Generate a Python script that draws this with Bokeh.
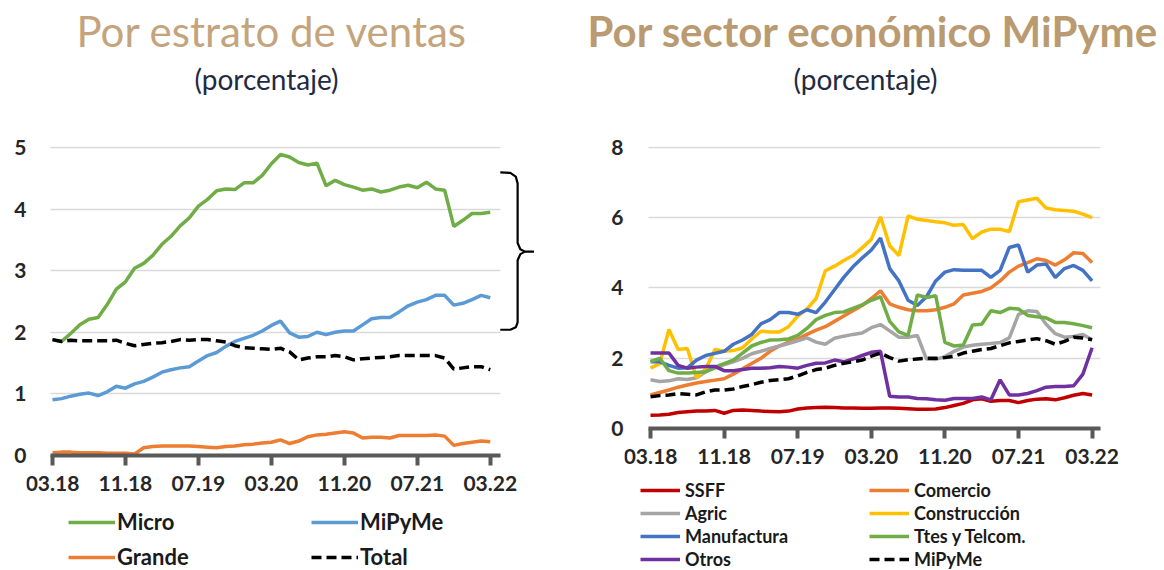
from bokeh.plotting import figure
from bokeh.models import FixedTicker, Title, Legend, LegendItem, Range1d
from bokeh.layouts import row
from bokeh.embed import file_html
from bokeh.resources import INLINE

# ---------------- data ----------------
months = list(range(49))  # 03.18 .. 03.22, monthly
tick_pos = [0, 8, 16, 24, 32, 40, 48]
tick_labels = ["03.18", "11.18", "07.19", "03.20", "11.20", "07.21", "03.22"]

# Left panel: por estrato de ventas
micro = [1.88, 1.85, 1.98, 2.12, 2.21, 2.24, 2.45, 2.70, 2.82, 3.04, 3.12, 3.25, 3.43, 3.56, 3.73, 3.86,
         4.05, 4.16, 4.30, 4.33, 4.32, 4.43, 4.43, 4.55, 4.74, 4.89, 4.85, 4.76, 4.72, 4.75, 4.38, 4.47,
         4.40, 4.36, 4.31, 4.33, 4.28, 4.31, 4.36, 4.39, 4.35, 4.44, 4.33, 4.31, 3.72, 3.82, 3.93, 3.93, 3.95]
mipyme_l = [0.90, 0.92, 0.96, 0.99, 1.01, 0.97, 1.03, 1.12, 1.09, 1.16, 1.20, 1.27, 1.35, 1.39, 1.42, 1.44,
            1.53, 1.62, 1.67, 1.77, 1.85, 1.90, 1.95, 2.02, 2.11, 2.18, 1.99, 1.92, 1.93, 2.00, 1.96, 2.00,
            2.02, 2.02, 2.12, 2.22, 2.24, 2.24, 2.33, 2.43, 2.49, 2.53, 2.60, 2.60, 2.44, 2.47, 2.53, 2.60, 2.56]
grande = [0.04, 0.05, 0.05, 0.04, 0.04, 0.04, 0.03, 0.03, 0.03, 0.02, 0.12, 0.14, 0.15, 0.15, 0.15, 0.15,
          0.14, 0.13, 0.12, 0.14, 0.15, 0.17, 0.18, 0.20, 0.21, 0.25, 0.19, 0.23, 0.30, 0.33, 0.34, 0.36,
          0.38, 0.36, 0.28, 0.29, 0.29, 0.28, 0.32, 0.32, 0.32, 0.32, 0.33, 0.31, 0.16, 0.19, 0.21, 0.23, 0.22]
total = [1.88, 1.85, 1.87, 1.86, 1.86, 1.86, 1.86, 1.87, 1.82, 1.78, 1.80, 1.82, 1.83, 1.85, 1.88, 1.87,
         1.88, 1.88, 1.86, 1.84, 1.78, 1.75, 1.74, 1.73, 1.72, 1.74, 1.68, 1.55, 1.58, 1.60, 1.60, 1.62,
         1.60, 1.55, 1.57, 1.58, 1.59, 1.60, 1.62, 1.62, 1.62, 1.62, 1.62, 1.58, 1.40, 1.42, 1.44, 1.44, 1.39]

# Right panel: por sector económico MiPyme
ssff = [0.38, 0.39, 0.41, 0.46, 0.48, 0.50, 0.50, 0.52, 0.44, 0.52, 0.53, 0.52, 0.50, 0.49, 0.48, 0.50,
        0.56, 0.59, 0.60, 0.61, 0.60, 0.59, 0.59, 0.58, 0.58, 0.59, 0.59, 0.58, 0.57, 0.55, 0.55, 0.56,
        0.60, 0.66, 0.72, 0.82, 0.85, 0.78, 0.80, 0.80, 0.74, 0.80, 0.84, 0.85, 0.82, 0.88, 0.95, 1.00, 0.96]
comercio = [0.96, 1.03, 1.10, 1.18, 1.24, 1.30, 1.34, 1.38, 1.42, 1.55, 1.70, 1.85, 2.00, 2.20, 2.35, 2.46,
            2.55, 2.68, 2.80, 2.90, 3.05, 3.20, 3.35, 3.50, 3.70, 3.92, 3.55, 3.45, 3.38, 3.35, 3.35, 3.38,
            3.45, 3.55, 3.80, 3.85, 3.90, 4.00, 4.20, 4.45, 4.62, 4.72, 4.83, 4.78, 4.65, 4.80, 5.00, 4.98, 4.72]
agric = [1.39, 1.34, 1.36, 1.42, 1.40, 1.45, 1.62, 1.72, 1.82, 1.90, 2.00, 2.13, 2.20, 2.28, 2.35, 2.42,
         2.50, 2.58, 2.46, 2.40, 2.57, 2.63, 2.68, 2.72, 2.87, 2.96, 2.78, 2.60, 2.60, 2.65, 1.98, 1.97,
         2.05, 2.20, 2.32, 2.37, 2.40, 2.42, 2.45, 2.58, 3.25, 3.35, 3.33, 2.97, 2.70, 2.60, 2.62, 2.68, 2.53]
construccion = [1.72, 1.85, 2.82, 2.25, 2.28, 1.45, 1.70, 2.25, 2.20, 2.22, 2.30, 2.55, 2.77, 2.75, 2.75, 2.90,
                3.20, 3.40, 3.70, 4.49, 4.62, 4.78, 4.92, 5.14, 5.38, 6.02, 5.20, 4.92, 6.05, 5.95, 5.92, 5.88,
                5.85, 5.78, 5.80, 5.40, 5.59, 5.67, 5.67, 5.60, 6.45, 6.50, 6.55, 6.27, 6.22, 6.20, 6.18, 6.10, 6.00]
manufactura = [1.90, 1.90, 1.80, 1.72, 1.73, 1.95, 2.08, 2.14, 2.20, 2.40, 2.52, 2.68, 2.98, 3.10, 3.30, 3.30,
               3.25, 3.38, 3.30, 3.60, 3.95, 4.30, 4.60, 4.85, 5.08, 5.42, 4.55, 4.20, 3.65, 3.50, 3.75, 4.20,
               4.45, 4.52, 4.50, 4.50, 4.50, 4.30, 4.50, 5.15, 5.22, 4.45, 4.65, 4.68, 4.30, 4.55, 4.64, 4.50, 4.20]
ttes = [1.91, 2.00, 1.65, 1.58, 1.58, 1.60, 1.62, 1.75, 1.85, 1.95, 2.15, 2.35, 2.45, 2.52, 2.53, 2.55,
        2.65, 2.85, 3.10, 3.22, 3.30, 3.32, 3.42, 3.52, 3.65, 3.75, 3.05, 2.75, 2.65, 3.80, 3.73, 3.78,
        2.45, 2.35, 2.38, 2.95, 2.97, 3.35, 3.30, 3.42, 3.40, 3.22, 3.18, 3.15, 3.02, 3.02, 2.98, 2.93, 2.87]
otros = [2.15, 2.15, 2.15, 1.80, 1.72, 1.75, 1.77, 1.77, 1.65, 1.65, 1.68, 1.72, 1.72, 1.73, 1.77, 1.75,
         1.72, 1.80, 1.86, 1.87, 1.95, 1.90, 1.98, 2.08, 2.17, 2.20, 0.92, 0.90, 0.90, 0.86, 0.85, 0.82,
         0.81, 0.86, 0.86, 0.86, 0.90, 0.82, 1.39, 0.96, 0.96, 1.00, 1.08, 1.18, 1.20, 1.20, 1.22, 1.55, 2.30]
mipyme_r = [0.91, 0.94, 0.96, 1.00, 0.98, 0.96, 1.05, 1.10, 1.10, 1.13, 1.20, 1.25, 1.32, 1.37, 1.39, 1.42,
            1.50, 1.60, 1.68, 1.72, 1.80, 1.86, 1.90, 1.95, 2.06, 2.15, 2.02, 1.92, 1.96, 1.98, 2.00, 2.00,
            2.02, 2.06, 2.15, 2.20, 2.25, 2.28, 2.36, 2.44, 2.48, 2.52, 2.56, 2.50, 2.40, 2.48, 2.60, 2.58, 2.53]

FONT = "Lato"
SUB_COLOR = "#1F2A44"
AXIS_COLOR = "#595959"
GRID_COLOR = "#D9D9D9"
LW = 3.5


def style(p, yticks, xbounds, label_standoff_y, label_standoff_x):
    p.outline_line_color = None
    p.xgrid.visible = False
    p.ygrid.grid_line_color = GRID_COLOR
    p.ygrid.grid_line_width = 1.5
    p.ygrid.cross_bounds = xbounds
    p.yaxis.ticker = FixedTicker(ticks=yticks)
    p.yaxis.axis_line_color = None
    p.yaxis.major_tick_line_color = None
    p.yaxis.minor_tick_line_color = None
    p.yaxis.major_label_text_font = FONT
    p.yaxis.major_label_text_font_style = "bold"
    p.yaxis.major_label_text_font_size = "21px"
    p.yaxis.major_label_text_color = "#262626"
    p.yaxis.major_label_standoff = label_standoff_y
    p.xaxis.fixed_location = 0
    p.xaxis.bounds = xbounds
    p.xaxis.ticker = FixedTicker(ticks=tick_pos)
    p.xaxis.major_label_overrides = {t: s for t, s in zip(tick_pos, tick_labels)}
    p.xaxis.axis_line_color = AXIS_COLOR
    p.xaxis.axis_line_width = 4
    p.xaxis.major_tick_line_color = AXIS_COLOR
    p.xaxis.major_tick_line_width = 4
    p.xaxis.major_tick_out = 10
    p.xaxis.major_tick_in = 0
    p.xaxis.minor_tick_line_color = None
    p.xaxis.major_label_text_font = FONT
    p.xaxis.major_label_text_font_style = "bold"
    p.xaxis.major_label_text_font_size = "21px"
    p.xaxis.major_label_text_color = "#262626"
    p.xaxis.major_label_standoff = label_standoff_x


def titles(p, main, main_color, main_style, main_offset, sub_offset):
    # spacer (closest to the frame), then subtitle, then the main title (outermost)
    p.add_layout(Title(text=" ", text_font_size="10px", standoff=38), "above")
    p.add_layout(Title(text="(porcentaje)", align="left", offset=sub_offset, text_font=FONT,
                       text_font_style="normal", text_font_size="28px", text_color=SUB_COLOR,
                       standoff=0), "above")
    p.title.text = main
    p.title.align = "left"
    p.title.offset = main_offset
    p.title.text_font = FONT
    p.title.text_font_style = main_style
    p.title.text_font_size = "42px"
    p.title.text_color = main_color
    p.title.standoff = 7


# ---------------- left figure ----------------
p1 = figure(width=560, height=570, x_range=Range1d(-2.85, 53.07), y_range=Range1d(-1.875, 5.02),
            output_backend="svg", toolbar_location=None,
            min_border_left=26, min_border_right=24, min_border_top=0, min_border_bottom=0)
style(p1, [0, 1, 2, 3, 4, 5], (-0.2, 49.1), -6, 11)
titles(p1, "Por estrato de ventas", "#C4A47C", "normal", 50, 168)

r_micro = p1.line(months, micro, line_color="#70AD47", line_width=LW)
r_mipl = p1.line(months, mipyme_l, line_color="#5B9BD5", line_width=LW)
r_grande = p1.line(months, grande, line_color="#ED7D31", line_width=LW)
r_total = p1.line(months, total, line_color="black", line_width=LW, line_dash="10 5")

# curly brace annotation to the right of the lines
brace_x = [[49.1, 50.2, 50.8, 51.0, 51.0, 51.3, 51.8, 52.8],
           [51.8, 51.3, 51.0, 51.0, 50.8, 50.2, 49.1]]
brace_y = [[4.60, 4.59, 4.53, 4.42, 3.45, 3.35, 3.31, 3.31],
           [3.31, 3.27, 3.17, 2.16, 2.08, 2.04, 2.04]]
p1.multi_line(brace_x, brace_y, line_color="black", line_width=2.2)

leg1 = Legend(items=[LegendItem(label="Micro", renderers=[r_micro]),
                     LegendItem(label="Grande", renderers=[r_grande]),
                     LegendItem(label="MiPyMe", renderers=[r_mipl]),
                     LegendItem(label="Total", renderers=[r_total])],
              ncols=2, location=(42, 0), margin=0, padding=0, spacing=8,
              glyph_width=47, glyph_height=26, label_height=26, label_width=186, label_standoff=2,
              label_text_font=FONT, label_text_font_style="bold", label_text_font_size="22px",
              label_text_color="#1a1a1a", border_line_color=None, background_fill_alpha=0)
p1.add_layout(leg1)

# ---------------- right figure ----------------
p2 = figure(width=604, height=570, x_range=Range1d(-2.83, 50.87), y_range=Range1d(-4.03, 8.02),
            output_backend="svg", toolbar_location=None,
            min_border_left=64, min_border_right=46, min_border_top=0, min_border_bottom=0)
style(p2, [0, 2, 4, 6, 8], (-0.22, 48.91), -5, 10)
titles(p2, "Por sector económico MiPyme", "#BA9A70", "bold", -37, 169)

r_ssff = p2.line(months, ssff, line_color="#C00000", line_width=LW)
r_com = p2.line(months, comercio, line_color="#ED7D31", line_width=LW)
r_agr = p2.line(months, agric, line_color="#A5A5A5", line_width=LW)
r_con = p2.line(months, construccion, line_color="#FFC000", line_width=LW)
r_man = p2.line(months, manufactura, line_color="#4472C4", line_width=LW)
r_tte = p2.line(months, ttes, line_color="#70AD47", line_width=LW)
r_otr = p2.line(months, otros, line_color="#7030A0", line_width=LW)
r_mipr = p2.line(months, mipyme_r, line_color="black", line_width=LW, line_dash="10 5")

leg2 = Legend(items=[LegendItem(label="SSFF", renderers=[r_ssff]),
                     LegendItem(label="Agric", renderers=[r_agr]),
                     LegendItem(label="Manufactura", renderers=[r_man]),
                     LegendItem(label="Otros", renderers=[r_otr]),
                     LegendItem(label="Comercio", renderers=[r_com]),
                     LegendItem(label="Construcción", renderers=[r_con]),
                     LegendItem(label="Ttes y Telcom.", renderers=[r_tte]),
                     LegendItem(label="MiPyMe", renderers=[r_mipr])],
              ncols=2, location=(16, 0), margin=0, padding=0, spacing=1,
              glyph_width=40, glyph_height=18, label_height=18, label_width=183, label_standoff=5,
              label_text_font=FONT, label_text_font_style="bold", label_text_font_size="18px",
              label_text_color="#1a1a1a", border_line_color=None, background_fill_alpha=0)
p2.add_layout(leg2)

layout = row(p1, p2)
open("out.html", "w").write(file_html(layout, INLINE))
